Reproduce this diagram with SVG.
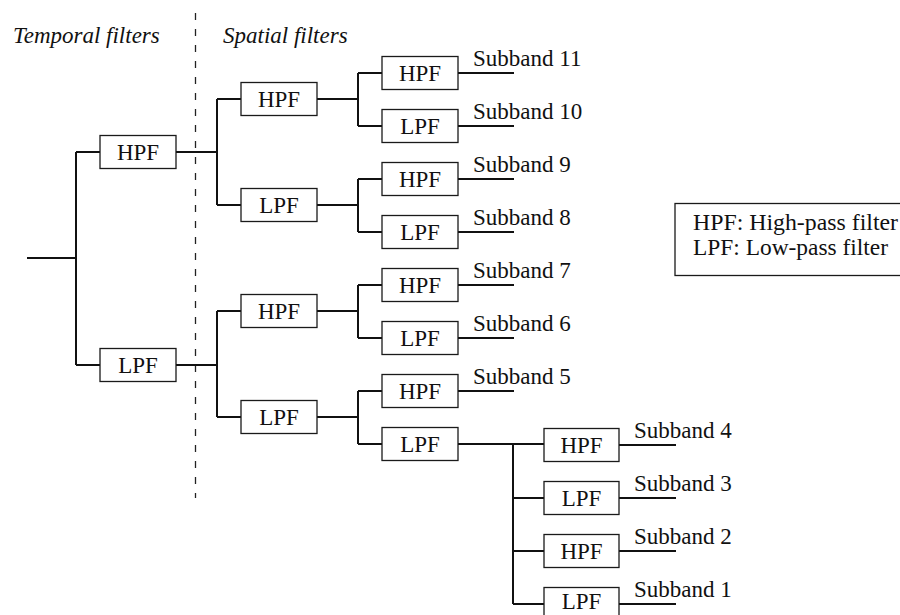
<svg xmlns="http://www.w3.org/2000/svg" width="900" height="615" viewBox="0 0 900 615">
<style>
  .box { fill: #fff; stroke: #1a1a1a; stroke-width: 1.3; }
  .lbl { font-family: "Liberation Serif", "Times New Roman", serif; font-size: 23px; fill: #111; text-anchor: middle; }
  .sub { font-family: "Liberation Serif", "Times New Roman", serif; font-size: 23px; fill: #111; }
  .head { font-family: "Liberation Serif", "Times New Roman", serif; font-size: 23px; font-style: italic; fill: #111; }
  .wire { fill: none; stroke: #111; stroke-width: 2; }
  .dash { fill: none; stroke: #222; stroke-width: 1.3; stroke-dasharray: 7 9; }
</style>
<rect width="900" height="615" fill="#fff"/>

<g id="headings">
  <text class="head" x="13" y="43">Temporal filters</text>
  <text class="head" x="223" y="43">Spatial filters</text>
  <line class="dash" x1="195.5" y1="13" x2="195.5" y2="498"/>
</g>

<g id="connectors">
  <path class="wire" d="M27 258 H76 M76 152 V365 M76 152 H100 M76 365 H100"/>
  <path class="wire" d="M176 152 H217 M217 99 V205 M217 99 H241 M217 205 H241"/>
  <path class="wire" d="M176 365 H217 M217 311 V417 M217 311 H241 M217 417 H241"/>
  <path class="wire" d="M317 99 H358 M358 73 V126 M358 73 H382 M358 126 H382"/>
  <path class="wire" d="M317 205 H358 M358 179 V232 M358 179 H382 M358 232 H382"/>
  <path class="wire" d="M317 311 H358 M358 285 V338 M358 285 H382 M358 338 H382"/>
  <path class="wire" d="M317 417 H358 M358 391 V444 M358 391 H382 M358 444 H382"/>
  <path class="wire" d="M458 73 H514 M458 126 H514 M458 179 H514 M458 232 H514 M458 285 H514 M458 338 H514 M458 391 H514"/>
  <path class="wire" d="M458 444 H544 M513 444 V604 M513 498 H544 M513 551 H544 M513 604 H544"/>
  <path class="wire" d="M619 445 H676 M619 498 H676 M619 551 H676 M619 604 H676"/>
</g>

<g id="t-hpf"><rect class="box" x="100" y="135.5" width="76" height="33"/><text class="lbl" x="138" y="160">HPF</text></g>
<g id="t-lpf"><rect class="box" x="100" y="348.5" width="76" height="33"/><text class="lbl" x="138" y="373">LPF</text></g>

<g id="s1-hpf-a"><rect class="box" x="241" y="82.5" width="76" height="33"/><text class="lbl" x="279" y="107">HPF</text></g>
<g id="s1-lpf-a"><rect class="box" x="241" y="188.5" width="76" height="33"/><text class="lbl" x="279" y="213">LPF</text></g>
<g id="s1-hpf-b"><rect class="box" x="241" y="294.5" width="76" height="33"/><text class="lbl" x="279" y="319">HPF</text></g>
<g id="s1-lpf-b"><rect class="box" x="241" y="400.5" width="76" height="33"/><text class="lbl" x="279" y="425">LPF</text></g>

<g id="s2-1"><rect class="box" x="382" y="56.5" width="76" height="33"/><text class="lbl" x="420" y="81">HPF</text></g>
<g id="s2-2"><rect class="box" x="382" y="109.5" width="76" height="33"/><text class="lbl" x="420" y="134">LPF</text></g>
<g id="s2-3"><rect class="box" x="382" y="162.5" width="76" height="33"/><text class="lbl" x="420" y="187">HPF</text></g>
<g id="s2-4"><rect class="box" x="382" y="215.5" width="76" height="33"/><text class="lbl" x="420" y="240">LPF</text></g>
<g id="s2-5"><rect class="box" x="382" y="268.5" width="76" height="33"/><text class="lbl" x="420" y="293">HPF</text></g>
<g id="s2-6"><rect class="box" x="382" y="321.5" width="76" height="33"/><text class="lbl" x="420" y="346">LPF</text></g>
<g id="s2-7"><rect class="box" x="382" y="374.5" width="76" height="33"/><text class="lbl" x="420" y="399">HPF</text></g>
<g id="s2-8"><rect class="box" x="382" y="427.5" width="76" height="33"/><text class="lbl" x="420" y="452">LPF</text></g>

<g id="s3-1"><rect class="box" x="544" y="428.5" width="75" height="33"/><text class="lbl" x="581.5" y="453">HPF</text></g>
<g id="s3-2"><rect class="box" x="544" y="481.5" width="75" height="33"/><text class="lbl" x="581.5" y="506">LPF</text></g>
<g id="s3-3"><rect class="box" x="544" y="534.5" width="75" height="33"/><text class="lbl" x="581.5" y="559">HPF</text></g>
<g id="s3-4"><rect class="box" x="544" y="587.5" width="75" height="33"/><text class="lbl" x="581.5" y="609">LPF</text></g>

<g id="subband-labels">
  <text class="sub" x="473" y="66">Subband 11</text>
  <text class="sub" x="473" y="119">Subband 10</text>
  <text class="sub" x="473" y="172">Subband 9</text>
  <text class="sub" x="473" y="225">Subband 8</text>
  <text class="sub" x="473" y="278">Subband 7</text>
  <text class="sub" x="473" y="331">Subband 6</text>
  <text class="sub" x="473" y="384">Subband 5</text>
  <text class="sub" x="634" y="438">Subband 4</text>
  <text class="sub" x="634" y="491">Subband 3</text>
  <text class="sub" x="634" y="544">Subband 2</text>
  <text class="sub" x="634" y="597">Subband 1</text>
</g>

<g id="legend">
  <rect class="box" x="675" y="203.5" width="240" height="72"/>
  <text class="sub" x="693" y="230" textLength="205" lengthAdjust="spacingAndGlyphs">HPF: High-pass filter</text>
  <text class="sub" x="693" y="255" textLength="195" lengthAdjust="spacingAndGlyphs">LPF: Low-pass filter</text>
</g>
</svg>
